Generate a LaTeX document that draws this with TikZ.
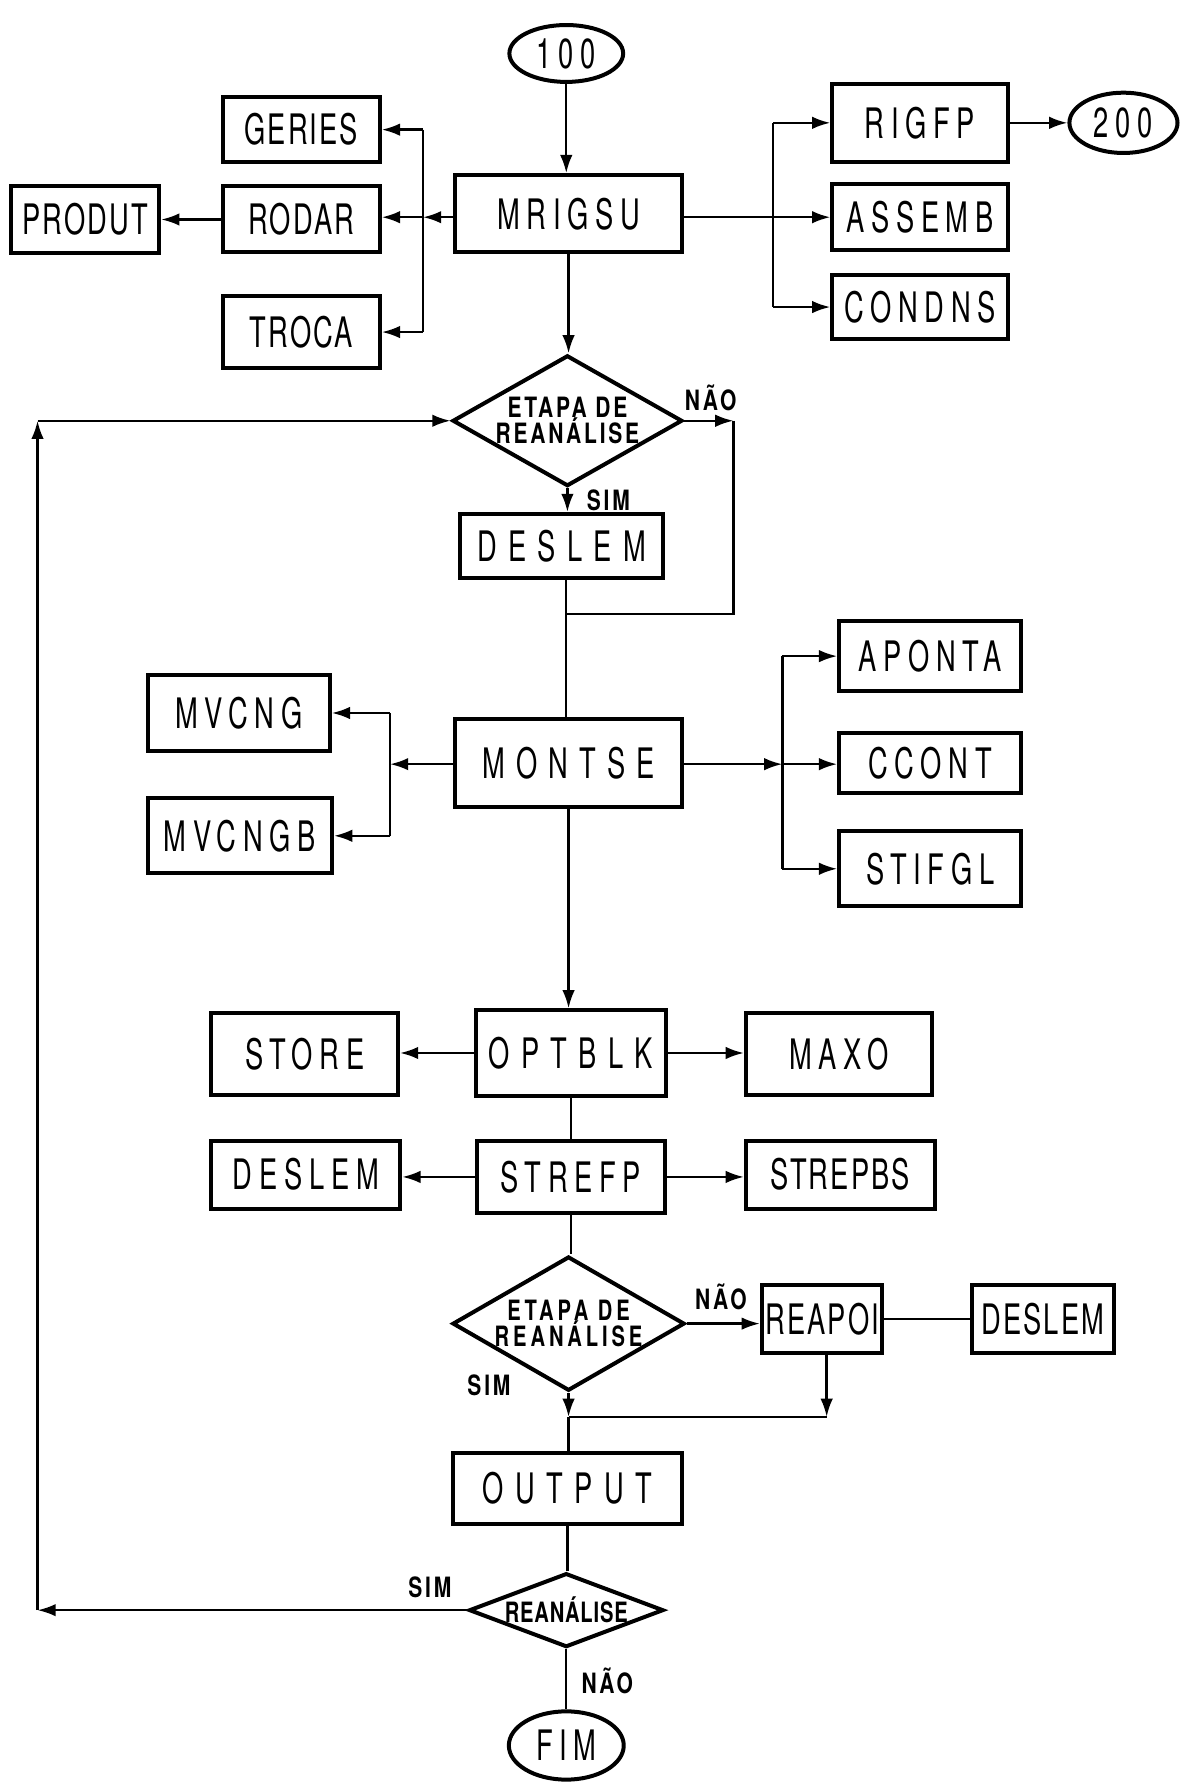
\documentclass[tikz,border=0pt]{standalone}
\usepackage{fontspec}
\setmainfont{TeX Gyre Heros}
\newfontfamily\lettr[FakeStretch=0.65,LetterSpace=16]{TeX Gyre Heros}
\newfontfamily\lettrtight[FakeStretch=0.65,LetterSpace=5]{TeX Gyre Heros}
\newfontfamily\lettrwide[FakeStretch=0.65,LetterSpace=27]{TeX Gyre Heros}
\newfontfamily\lettrsmall[FakeStretch=0.75,LetterSpace=10]{TeX Gyre Heros}
\newfontfamily\lettrsmallwide[FakeStretch=0.72,LetterSpace=14]{TeX Gyre Heros}
\newfontfamily\lettrsmalltight[FakeStretch=0.72,LetterSpace=3]{TeX Gyre Heros}
\usepackage{tikz}
\usetikzlibrary{arrows.meta, positioning, shapes.geometric}

\tikzset{
  box/.style={draw, line width=1pt, inner sep=0pt, font=\fontsize{10.5}{12}\lettr},
  tight/.style={font=\fontsize{10.5}{12}\lettrtight},
  wide/.style={font=\fontsize{10.5}{12}\lettrwide},
  decision/.style={draw, diamond, aspect=2, line width=1pt, inner ysep=0pt, inner xsep=-0.15cm,
                   align=center, font=\fontsize{7}{7.5}\lettrsmall\bfseries},
  term/.style={draw, ellipse, line width=1pt, inner sep=0pt, font=\fontsize{10.5}{12}\lettr},
  lbl/.style={font=\fontsize{7}{8}\lettrsmall\bfseries, inner sep=1pt},
  arr/.style={line width=0.6pt, -{Latex[length=1.6mm,width=1.1mm]}},
  wire/.style={line width=0.6pt}
}

\begin{document}
\begin{tikzpicture}[x=0.01cm,y=-0.01cm]
\useasboundingbox (0,0) rectangle (1038,1568);

% --- TOP: MRIGSU ---
\node[term, minimum width=1.0cm, minimum height=0.5cm] (n100) at (498,47) {100};
\node[box, minimum width=1.99cm, minimum height=0.68cm] (mrigsu) at (500,188) {MRIGSU};
\foreach \nm/\y/\h/\txt in {geries/114/0.57/GERIES, rodar/193/0.58/RODAR, troca/292/0.64/TROCA} {
  \node[box, tight, minimum width=1.38cm, minimum height=\h cm] (\nm) at (265,\y) {\txt};
}
\node[box, tight, minimum width=1.30cm, minimum height=0.59cm] (produt) at (75,193) {PRODUT};
\foreach \nm/\y/\h/\txt in {rigfp/108/0.68/RIGFP, assemb/191/0.58/ASSEMB, condns/270/0.56/CONDNS} {
  \node[box, minimum width=1.54cm, minimum height=\h cm] (\nm) at (809,\y) {\txt};
}
\node[term, minimum width=0.95cm, minimum height=0.53cm] (n200) at (988,108) {200};

\coordinate (bl) at (372,191);
\coordinate (br) at (680,191);
\draw[arr] (n100.south) -- (n100.south |- mrigsu.north);
\draw[arr] (mrigsu.west |- bl) -- (bl);
\draw[arr] (bl) -- (bl -| rodar.east);
\draw[wire] (bl |- geries.east) -- (bl |- troca.east);
\draw[arr] (bl |- geries.east) -- (geries.east);
\draw[arr] (bl |- troca.east) -- (troca.east);
\draw[arr] (rodar.west) -- (produt.east);
\draw[arr] (mrigsu.east |- br) -- (br -| assemb.west);
\draw[wire] (br |- rigfp.west) -- (br |- condns.west);
\draw[arr] (br |- rigfp.west) -- (rigfp.west);
\draw[arr] (br |- condns.west) -- (condns.west);
\draw[arr] (rigfp.east) -- (n200.west);

% --- FIRST DECISION ---
\node[decision, minimum width=2.02cm, minimum height=1.15cm] (etapa1) at (499,370) {ETAPA DE\\[-1pt]REANÁLISE};
\node[box, wide, minimum width=1.78cm, minimum height=0.56cm] (deslemA) at (494,480) {DESLEM};
\node[lbl] (naoA) at (625,350) {NÃO};
\node[lbl] (simA) at (535,440) {SIM};

\coordinate (cnA) at (645,370);
\coordinate (jnA) at (498,540);
\draw[arr] (mrigsu.south) -- (mrigsu.south |- etapa1.north);
\draw[arr] (etapa1.east) -- (cnA);
\draw[wire] (cnA) |- (jnA);
\draw[arr] (etapa1.south) -- (etapa1.south |- deslemA.north);

% --- MONTSE ---
\node[box, wide, minimum width=1.99cm, minimum height=0.78cm] (montse) at (500,671) {MONTSE};
\node[box, minimum width=1.60cm, minimum height=0.67cm] (mvcng) at (210,627) {MVCNG};
\node[box, minimum width=1.62cm, minimum height=0.66cm] (mvcngb) at (211,735) {MVCNGB};
\foreach \nm/\y/\h/\txt in {aponta/577/0.61/APONTA, ccont/671/0.53/CCONT, stifgl/764/0.66/STIFGL} {
  \node[box, minimum width=1.60cm, minimum height=\h cm] (\nm) at (818,\y) {\txt};
}

\coordinate (ml) at (343,672);
\coordinate (mr) at (688,672);
\draw[wire] (deslemA.south -| jnA) -- (montse.north -| jnA);
\draw[arr] (montse.west |- ml) -- (ml);
\draw[wire] (ml |- mvcng.east) -- (ml |- mvcngb.east);
\draw[arr] (ml |- mvcng.east) -- (mvcng.east);
\draw[arr] (ml |- mvcngb.east) -- (mvcngb.east);
\draw[arr] (montse.east |- mr) -- (mr);
\draw[arr] (mr) -- (mr -| ccont.west);
\draw[wire] (mr |- aponta.west) -- (mr |- stifgl.west);
\draw[arr] (mr |- aponta.west) -- (aponta.west);
\draw[arr] (mr |- stifgl.west) -- (stifgl.west);

% --- OPTBLK / STREFP ---
\node[box, wide, minimum width=1.67cm, minimum height=0.75cm] (optblk) at (502,926) {OPTBLK};
\node[box, minimum width=1.64cm, minimum height=0.72cm] (store) at (268,927) {STORE};
\node[box, minimum width=1.64cm, minimum height=0.72cm] (maxo) at (738,927) {MAXO};
\node[box, minimum width=1.65cm, minimum height=0.63cm] (strefp) at (502,1035) {STREFP};
\node[box, minimum width=1.66cm, minimum height=0.60cm] (deslemB) at (269,1033) {DESLEM};
\node[box, tight, minimum width=1.66cm, minimum height=0.60cm] (strepbs) at (739,1033) {STREPBS};

\draw[arr] (montse.south) -- (montse.south |- optblk.north);
\draw[arr] (optblk.west) -- (optblk.west -| store.east);
\draw[arr] (optblk.east) -- (optblk.east -| maxo.west);
\draw[wire] (optblk.south) -- (optblk.south |- strefp.north);
\draw[arr] (strefp.west) -- (strefp.west -| deslemB.east);
\draw[arr] (strefp.east) -- (strefp.east -| strepbs.west);

% --- SECOND DECISION ---
\node[decision, minimum width=2.04cm, minimum height=1.18cm,
      font=\fontsize{7}{7.5}\lettrsmallwide\bfseries] (etapa2) at (500,1164) {ETAPA DE\\[-1pt]REANÁLISE};
\node[box, tight, minimum width=1.06cm, minimum height=0.60cm] (reapoi) at (723,1160) {REAPOI};
\node[box, tight, minimum width=1.25cm, minimum height=0.60cm] (deslemC) at (917,1160) {DESLEM};
\node[lbl] (naoB) at (634,1140) {NÃO};
\node[lbl] (simB) at (430,1218) {SIM};

\coordinate (jnB) at (500,1246);
\coordinate (cnB) at (727,1246);
\draw[wire] (strefp.south) -- (strefp.south |- etapa2.north);
\draw[arr] (etapa2.east) -- (etapa2.east -| reapoi.west);
\draw[wire] (reapoi.east |- deslemC.west) -- (deslemC.west);
\draw[arr] (reapoi.south -| cnB) -- (cnB);
\draw[wire] (cnB) -- (jnB);
\draw[arr] (etapa2.south) -- (jnB);

% --- OUTPUT / END ---
\node[box, wide, minimum width=2.02cm, minimum height=0.62cm] (output) at (499,1309) {OUTPUT};
\node[decision, aspect=3, inner xsep=-0.25cm, minimum width=1.71cm, minimum height=0.65cm,
      font=\fontsize{7}{7.5}\lettrsmalltight\bfseries] (reanal) at (498,1416) {REANÁLISE};
\node[term, minimum width=1.01cm, minimum height=0.60cm] (fim) at (498,1535) {FIM};
\node[lbl] (simC) at (378,1396) {SIM};
\node[lbl] (naoC) at (534,1478) {NÃO};

\coordinate (lpB) at (33,1416);
\coordinate (lpT) at (33,370);
\draw[wire] (jnB) -- (jnB |- output.north);
\draw[wire] (output.south) -- (output.south |- reanal.north);
\draw[wire] (reanal.south) -- (reanal.south |- fim.north);
\draw[arr] (reanal.west) -- (lpB);
\draw[arr] (lpB) -- (lpT);
\draw[arr] (lpT) -- (etapa1.west);
\end{tikzpicture}
\end{document}
